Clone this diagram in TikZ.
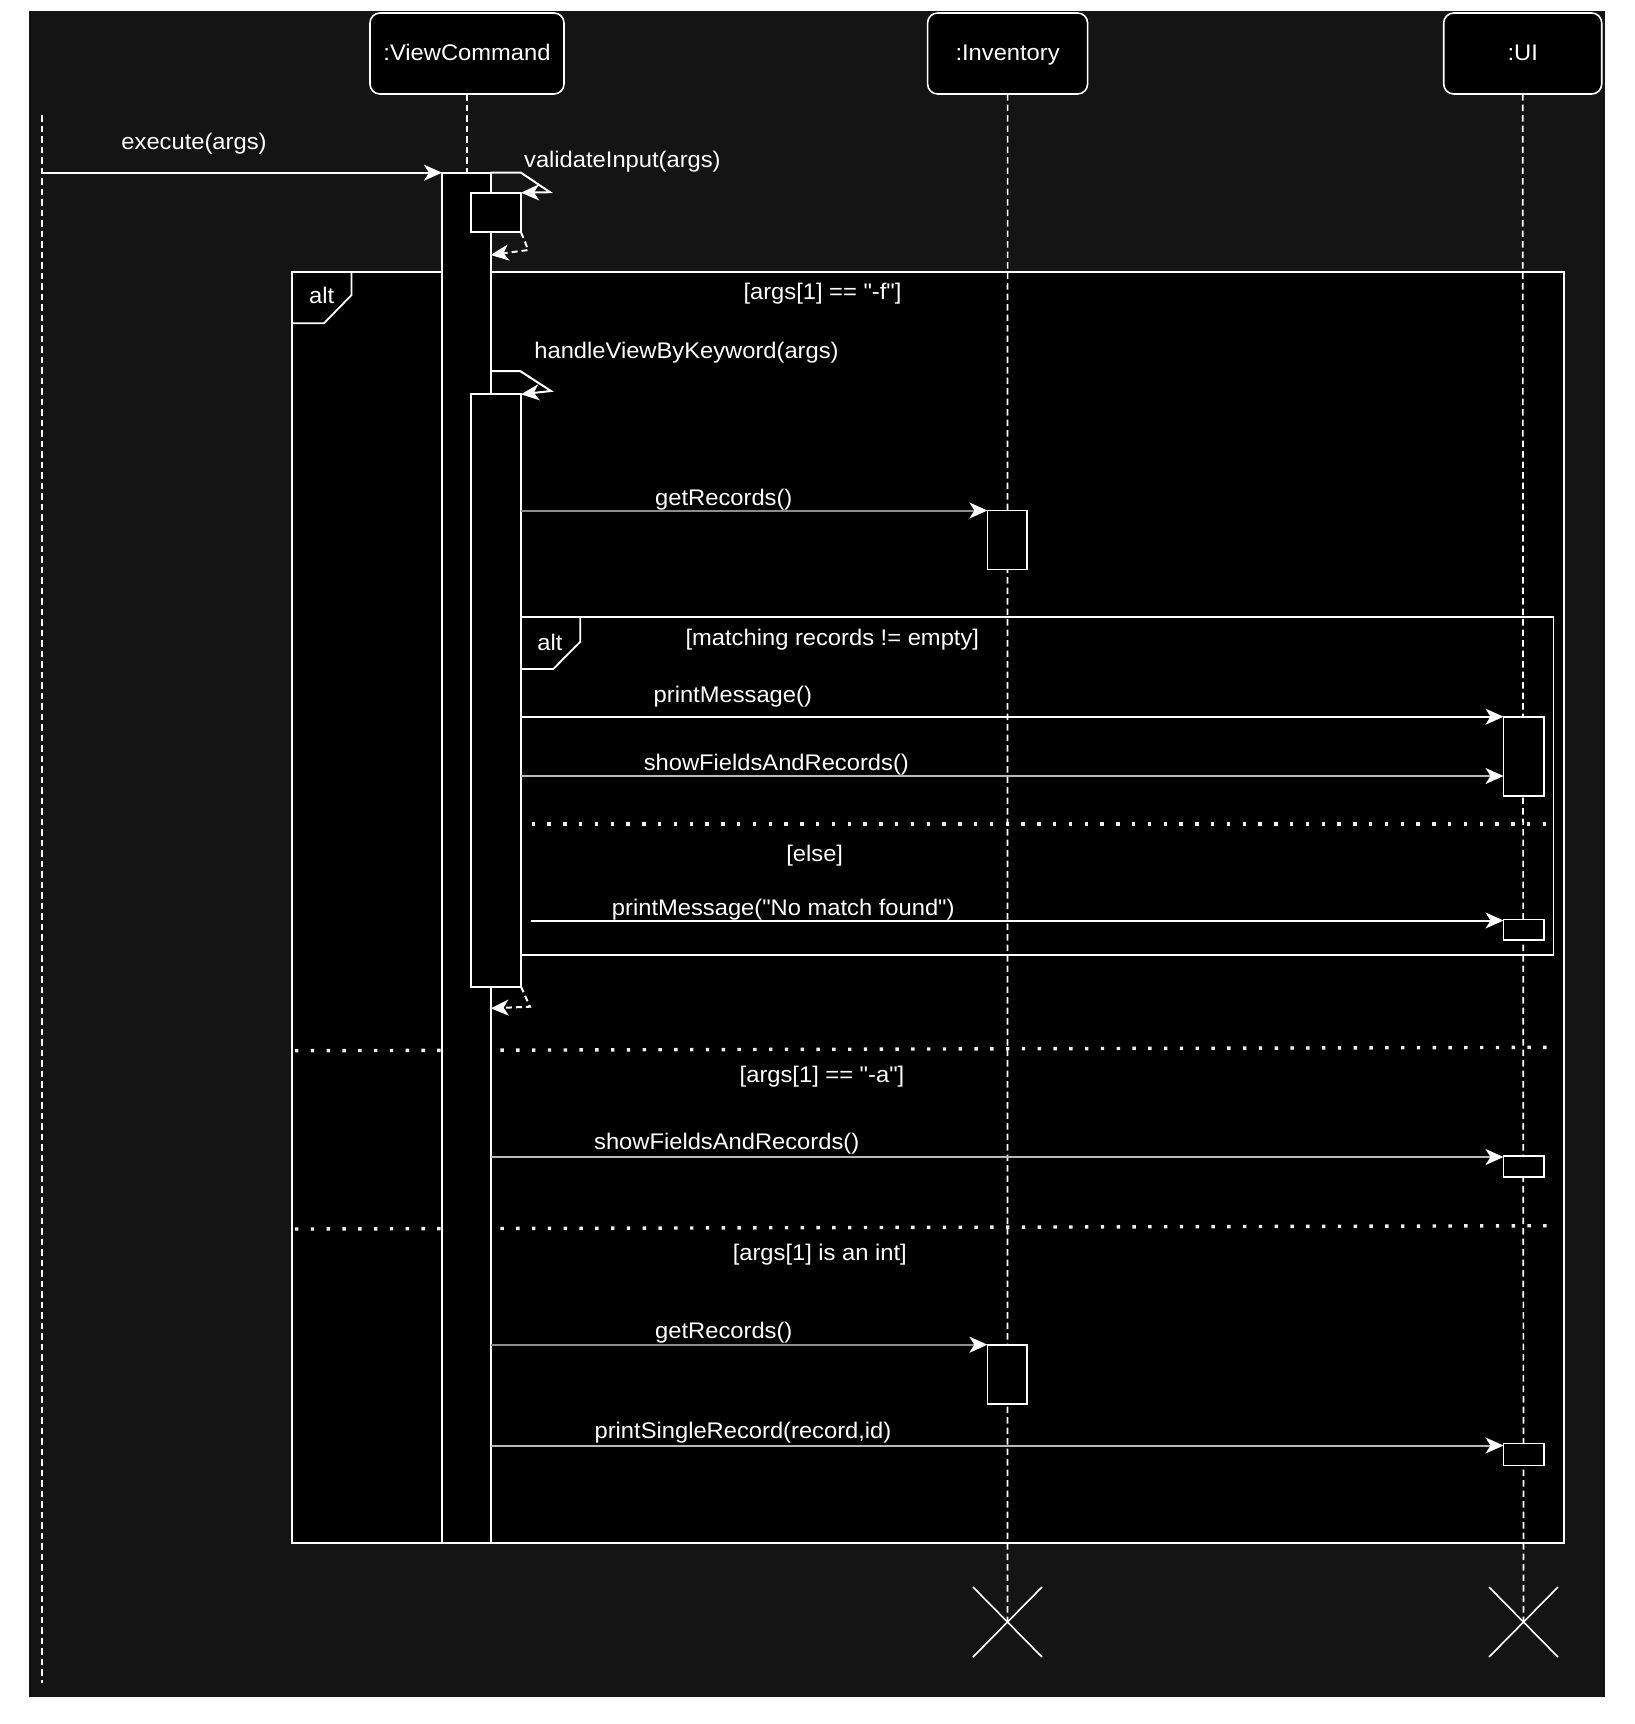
\documentclass[tikz,border=0pt]{standalone}
\usepackage{fontspec}
\setmainfont{Liberation Sans}[FakeStretch=1.05, Ligatures=TeXOff]
\usetikzlibrary{arrows.meta,shapes.misc}
\definecolor{canvasgray}{HTML}{141414}
\definecolor{dimline}{HTML}{8C8C8C}
\definecolor{softline}{HTML}{B8B8B8}
\definecolor{dotcol}{HTML}{EEEEEE}

\begin{document}
\begin{tikzpicture}[x=1pt,y=-1pt,
  every node/.style={inner sep=0pt, outer sep=0pt, text=white},
  txt/.style={font=\fontsize{22.6}{27}\selectfont, anchor=base},
  lbox/.style={draw=white, fill=black, line width=1.6pt, rounded corners=10pt,
    anchor=north west, font=\fontsize{22.6}{27}\selectfont,
    text height=13pt, text depth=0pt, minimum height=81pt},
  act/.style={draw=white, fill=black, line width=1.8pt, anchor=north west},
  frm/.style={draw=white, fill=black, line width=1.8pt, anchor=north west},
  tab/.style={draw=white, line width=1.8pt},
  life/.style={white, line width=1.7pt, dash pattern=on 6.5pt off 4pt},
  msg/.style={white, line width=2pt, -{Stealth[length=18pt,width=16pt,inset=5pt,color=white]}},
  ret/.style={msg, dash pattern=on 6pt off 4pt},
  sep/.style={dotcol, line width=3.4pt, dash pattern=on 3.4pt off 12.4pt},
  xmark/.style={draw=white, cross out, line width=1.6pt, minimum width=69pt, minimum height=70pt}
]
\useasboundingbox (0,0) rectangle (1635,1724);
\fill[white] (0,0) rectangle (1635,1724);
\fill[canvasgray] (28.6,11) rectangle (1605,1696.5);

% caller lifeline on the left
\coordinate (actorTop) at (42,115);
\coordinate (actorBot) at (42,1683);
\draw[life] (actorTop) -- (actorBot);

% participant heads
\node[lbox, minimum width=194pt] (vcb) at (370,13) {:ViewCommand};
\node[lbox, minimum width=160pt] (invb) at (927.6,13) {:Inventory};
\node[lbox, minimum width=158pt] (uib) at (1443.7,13) {:UI};

% outer alt fragment
\node[frm, minimum width=1272pt, minimum height=1271pt] (altA) at (292,271.7) {};
\draw[tab] (altA.north west) ++(59.5,0) -- ++(0,23.3) -- ++(-27.5,28.3) -- ++(-32,0);
\draw[sep] (295,1050.7) -- (1552,1047.3);
\draw[sep] (295,1229) -- (1552,1225.7);

% inner alt fragment
\node[frm, minimum width=1032pt, minimum height=338pt] (altB) at (521.5,617) {};
\draw[tab] (altB.north west) ++(58.8,0) -- ++(0,24.7) -- ++(-27,27.3) -- ++(-31.8,0);
\draw[sep] (531.5,824) -- (1551,824);

% destruction marks
\node[xmark] (invx) at (1007.5,1622) {};
\node[xmark] (uix) at (1523.5,1622) {};

% lifelines and activation bars
\node[act, minimum width=48.6pt, minimum height=1370pt] (vc) at (442,172.7) {};
\draw[life] (vcb.south) -- (vcb.south |- vc.north);
\draw[life] (invb.south) -- (invx.center);
\draw[life] (uib.south) -- (uix.center);
\node[act, minimum width=48.6pt, minimum height=1370pt] (vc) at (442,172.7) {};
\node[act, minimum width=50.3pt, minimum height=39.6pt] (vi) at (470.7,192.7) {};
\node[act, minimum width=50pt, minimum height=592.4pt] (hv) at (471,394.3) {};
\node[act, minimum width=39.6pt, minimum height=59pt] (inv1) at (987.4,510.5) {};
\node[act, minimum width=40.5pt, minimum height=79.5pt] (ui1) at (1503.5,716.7) {};
\node[act, minimum width=40.5pt, minimum height=20.5pt] (ui2) at (1503.5,919.5) {};
\node[act, minimum width=40.5pt, minimum height=21.3pt] (ui3) at (1503.5,1156) {};
\node[act, minimum width=39.6pt, minimum height=59.3pt] (inv2) at (987.4,1344.7) {};
\node[act, minimum width=40.5pt, minimum height=22pt] (ui4) at (1503.5,1443.5) {};

% messages
\draw[msg] (actorTop |- vc.north west) -- (vc.north west);
\draw[msg] (vc.north east) -- ++(30.4,0) -- (550,192.2) -- (vi.north east);
\draw[ret] (vi.south east) -- (528.3,250) -- (vc.east |- 0,255);
\draw[msg] (vc.east |- 0,371) -- ++(29.5,0) -- (551,391) -- (hv.north east);
\draw[msg, draw=dimline] (hv.east |- inv1.north west) -- (inv1.north west);
\draw[msg] (hv.east |- ui1.north west) -- (ui1.north west);
\draw[msg, draw=softline] (hv.east |- 0,776) -- (ui1.west |- 0,776);
\coordinate (nmStart) at (530.7,920.5);
\draw[msg] (nmStart) -- (ui2.west |- nmStart);
\draw[ret] (hv.south east) -- (530,1006.7) -- (vc.east |- 0,1008.3);
\draw[msg, draw=softline] (vc.east |- 0,1157) -- (ui3.west |- 0,1157);
\draw[msg, draw=dimline] (vc.east |- inv2.north west) -- (inv2.north west);
\draw[msg, draw=softline] (vc.east |- 0,1445.5) -- (ui4.west |- 0,1445.5);

% labels
\node[txt] (lExec) at (194,149.3) {execute(args)};
\node[txt] (lVal) at (622.4,167.7) {validateInput(args)};
\node[txt] (lCondF) at (822.5,299) {[args[1] == "-f"]};
\node[txt] (lAltA) at (321.6,303.5) {alt};
\node[txt] (lHv) at (686.5,358.5) {handleViewByKeyword(args)};
\node[txt] (lGr1) at (723.8,505) {getRecords()};
\node[txt] (lAltB) at (550,650) {alt};
\node[txt] (lMatch) at (832.3,645) {[matching records != empty]};
\node[txt] (lPm) at (732.8,702.7) {printMessage()};
\node[txt] (lSf1) at (776.3,770) {showFieldsAndRecords()};
\node[txt] (lElse) at (814.7,861.8) {[else]};
\node[txt] (lPmNm) at (783.3,915) {printMessage("No match found")};
\node[txt] (lCondA) at (822,1082) {[args[1] == "-a"]};
\node[txt] (lSf2) at (726.7,1149.3) {showFieldsAndRecords()};
\node[txt] (lCondI) at (819.8,1260.5) {[args[1] is an int]};
\node[txt] (lGr2) at (723.8,1338) {getRecords()};
\node[txt] (lPsr) at (743,1438) {printSingleRecord(record,id)};
\end{tikzpicture}
\end{document}
